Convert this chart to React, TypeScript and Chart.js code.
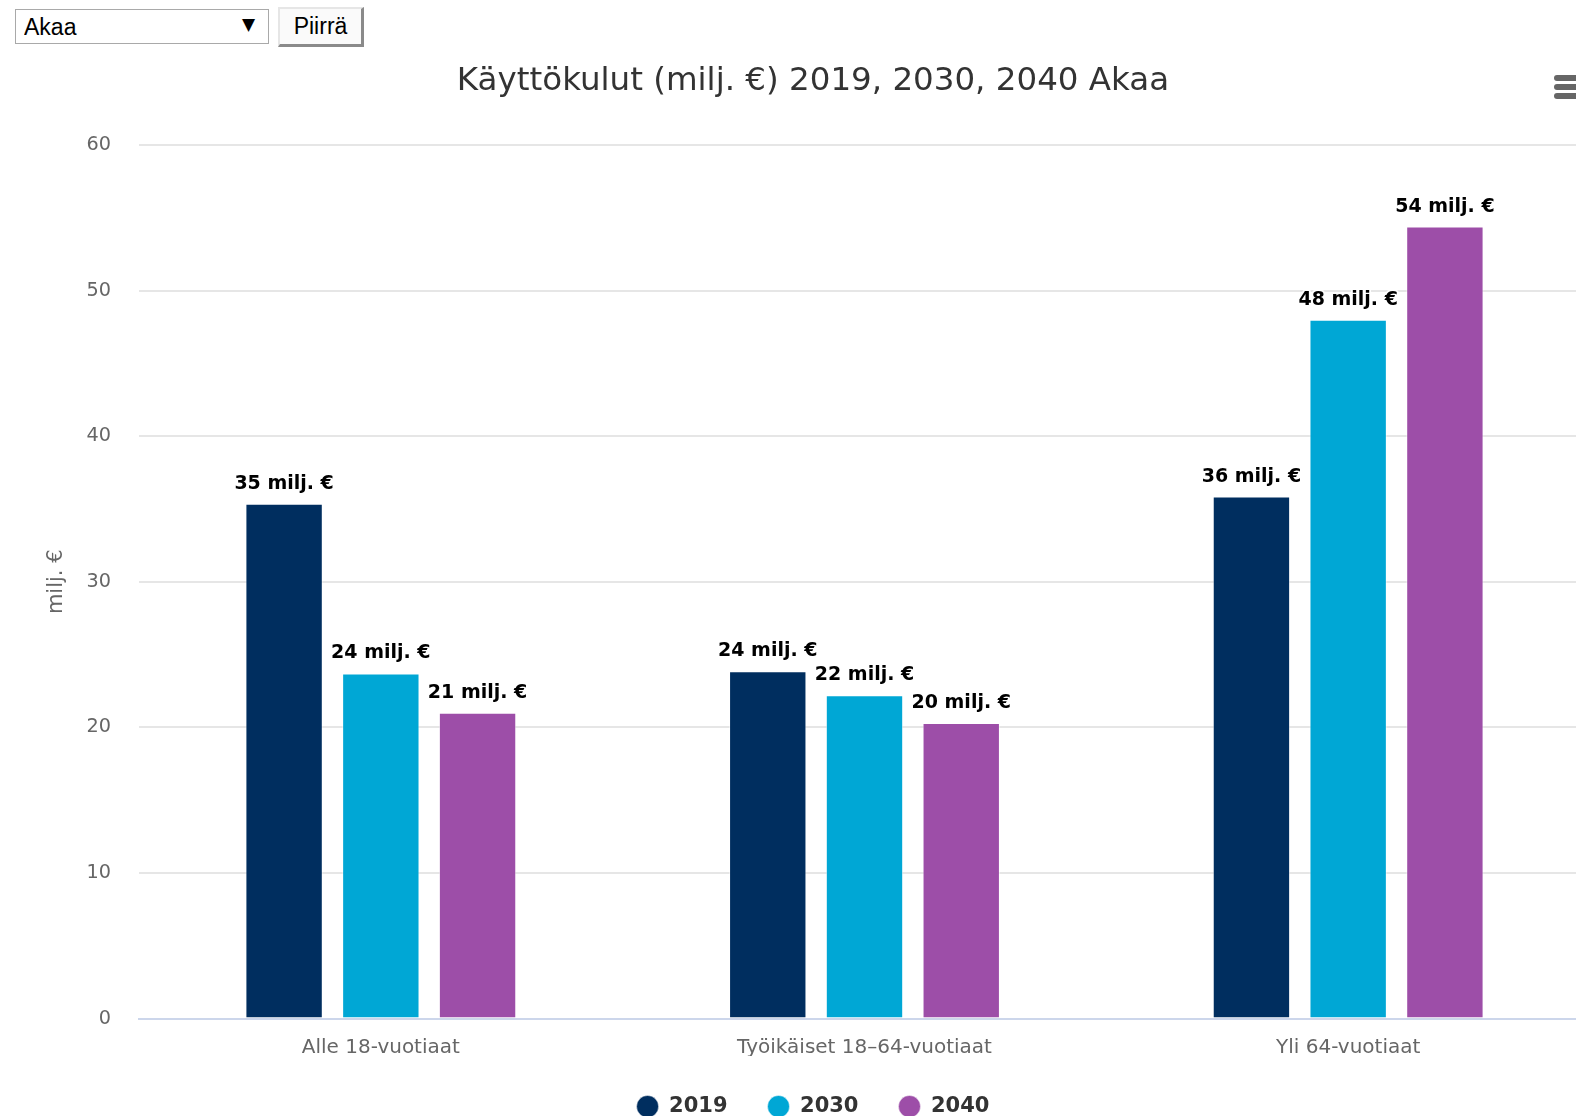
import React, { useEffect, useRef } from "react";
import { Chart, registerables } from "chart.js";

Chart.register(...registerables);

const categories = ["Alle 18-vuotiaat", "Työikäiset 18–64-vuotiaat", "Yli 64-vuotiaat"];
const seriesNames = ["2019", "2030", "2040"];
const values2019 = [35.35, 23.85, 35.85];
const values2030 = [23.7, 22.2, 48.0];
const values2040 = [21.0, 20.3, 54.4];
const seriesColors = ["#002e5f", "#00a7d5", "#9d4ea8"];
const yTicks = [0, 10, 20, 30, 40, 50, 60];
const titleText = "Käyttökulut (milj. €) 2019, 2030, 2040 Akaa";
const yAxisTitle = "milj. €";
const unitSuffix = " milj. €";
const municipality = "Akaa";
const buttonLabel = "Piirrä";

const FONT = '"DejaVu Sans", "Lucida Sans Unicode", Verdana, sans-serif';

const dataLabelPlugin = {
  id: "barValueLabels",
  afterDatasetsDraw(chart: any) {
    const ctx = chart.ctx;
    ctx.save();
    ctx.font = `bold 19px ${FONT}`;
    ctx.textAlign = "center";
    ctx.textBaseline = "alphabetic";
    ctx.lineJoin = "round";
    chart.data.datasets.forEach((ds: any, i: number) => {
      const meta = chart.getDatasetMeta(i);
      if (meta.hidden) return;
      meta.data.forEach((bar: any, j: number) => {
        const text = `${Math.round(ds.data[j])}${unitSuffix}`;
        ctx.lineWidth = 3.5;
        ctx.strokeStyle = "#ffffff";
        ctx.strokeText(text, bar.x, bar.y - 15);
        ctx.fillStyle = "#000000";
        ctx.fillText(text, bar.x, bar.y - 15);
      });
    });
    ctx.restore();
  },
};

function BarChart() {
  const ref = useRef<HTMLCanvasElement | null>(null);
  useEffect(() => {
    if (!ref.current) return;
    const seriesValues = [values2019, values2030, values2040];
    const chart = new Chart(ref.current, {
      type: "bar",
      data: {
        labels: categories,
        datasets: seriesNames.map((name, i) => ({
          label: name,
          data: seriesValues[i],
          backgroundColor: seriesColors[i],
          borderColor: "rgba(255,255,255,0.5)",
          borderWidth: 1,
          categoryPercentage: 0.6,
          barPercentage: 0.8,
        })),
      },
      options: {
        animation: false,
        responsive: false,
        maintainAspectRatio: false,
        layout: { padding: { left: 36, right: 36, top: 0, bottom: 0 } },
        plugins: {
          tooltip: { enabled: false },
          title: {
            display: true,
            text: titleText,
            color: "#333333",
            font: { family: FONT, size: 32.5, weight: "normal" },
            padding: { top: 62, bottom: 44 },
          },
          legend: {
            display: true,
            position: "bottom",
            labels: {
              usePointStyle: true,
              pointStyle: "circle",
              pointStyleWidth: 22,
              boxWidth: 22,
              boxHeight: 15.6,
              padding: 40,
              color: "#333333",
              font: { family: FONT, size: 21, weight: "bold" },
            },
          },
        },
        scales: {
          x: {
            grid: { display: false, drawTicks: false },
            border: { display: true, color: "#ccd6eb", width: 2 },
            ticks: {
              color: "#666666",
              font: { family: FONT, size: 20 },
              padding: 17,
            },
            afterFit: (scale: any) => {
              scale.height = 37.5;
            },
          },
          y: {
            min: 0,
            max: 60,
            afterBuildTicks: (scale: any) => {
              scale.ticks = yTicks.map((v) => ({ value: v }));
            },
            grid: {
              color: (c: any) => (c.tick && c.tick.value === 0 ? "rgba(0,0,0,0)" : "#e6e6e6"),
              lineWidth: 2,
              drawTicks: false,
            },
            border: { display: false },
            ticks: {
              color: "#666666",
              font: { family: FONT, size: 19.25 },
              padding: 28,
            },
            title: {
              display: true,
              text: yAxisTitle,
              color: "#666666",
              font: { family: FONT, size: 21 },
              padding: { top: 8, bottom: 0 },
            },
            afterFit: (scale: any) => {
              scale.width = 103;
            },
          },
        },
      },
      plugins: [dataLabelPlugin],
    });
    return () => chart.destroy();
  }, []);
  return <canvas ref={ref} width={1626} height={1127} style={{ display: "block" }} />;
}

export default function App() {
  useEffect(() => {
    document.body.style.margin = "0";
    document.body.style.overflow = "hidden";
  }, []);
  return (
    <div style={{ position: "relative", width: 1576, height: 1116, overflow: "hidden", background: "#ffffff" }}>
      <div style={{ position: "absolute", left: 0, top: 0 }}>
        <BarChart />
      </div>
      <div
        style={{
          position: "absolute",
          left: 15,
          top: 9,
          width: 254,
          height: 35,
          boxSizing: "border-box",
          border: "1px solid #a9a9a9",
          background: "#ffffff",
        }}
      >
        <select
          defaultValue={municipality}
          style={{
            appearance: "none",
            WebkitAppearance: "none",
            border: "none",
            outline: "none",
            background: "transparent",
            width: "100%",
            height: "100%",
            padding: "0 0 0 8px",
            margin: 0,
            fontFamily: '"Liberation Sans", Arial, sans-serif',
            fontSize: 23,
            color: "#000000",
          }}
        >
          <option value={municipality}>{municipality}</option>
        </select>
        <span
          style={{
            position: "absolute",
            right: 13,
            top: 4,
            fontFamily: '"DejaVu Sans", sans-serif',
            fontSize: 17,
            color: "#000",
            pointerEvents: "none",
          }}
        >
          ▼
        </span>
      </div>
      <button
        style={{
          position: "absolute",
          left: 278,
          top: 7,
          width: 86,
          height: 40,
          boxSizing: "border-box",
          background: "#fafafa",
          borderTop: "2px solid #e6e6e6",
          borderLeft: "2px solid #e6e6e6",
          borderBottom: "3px solid #8a8a8a",
          borderRight: "3px solid #8a8a8a",
          fontFamily: '"Liberation Sans", Arial, sans-serif',
          fontSize: 23,
          color: "#000",
          padding: 0,
        }}
      >
        {buttonLabel}
      </button>
      {[78, 87, 96].map((y) => (
        <div
          key={y}
          style={{
            position: "absolute",
            left: 1554,
            top: y - 2.75,
            width: 40,
            height: 5.5,
            borderRadius: 3,
            background: "#666666",
          }}
        />
      ))}
    </div>
  );
}
